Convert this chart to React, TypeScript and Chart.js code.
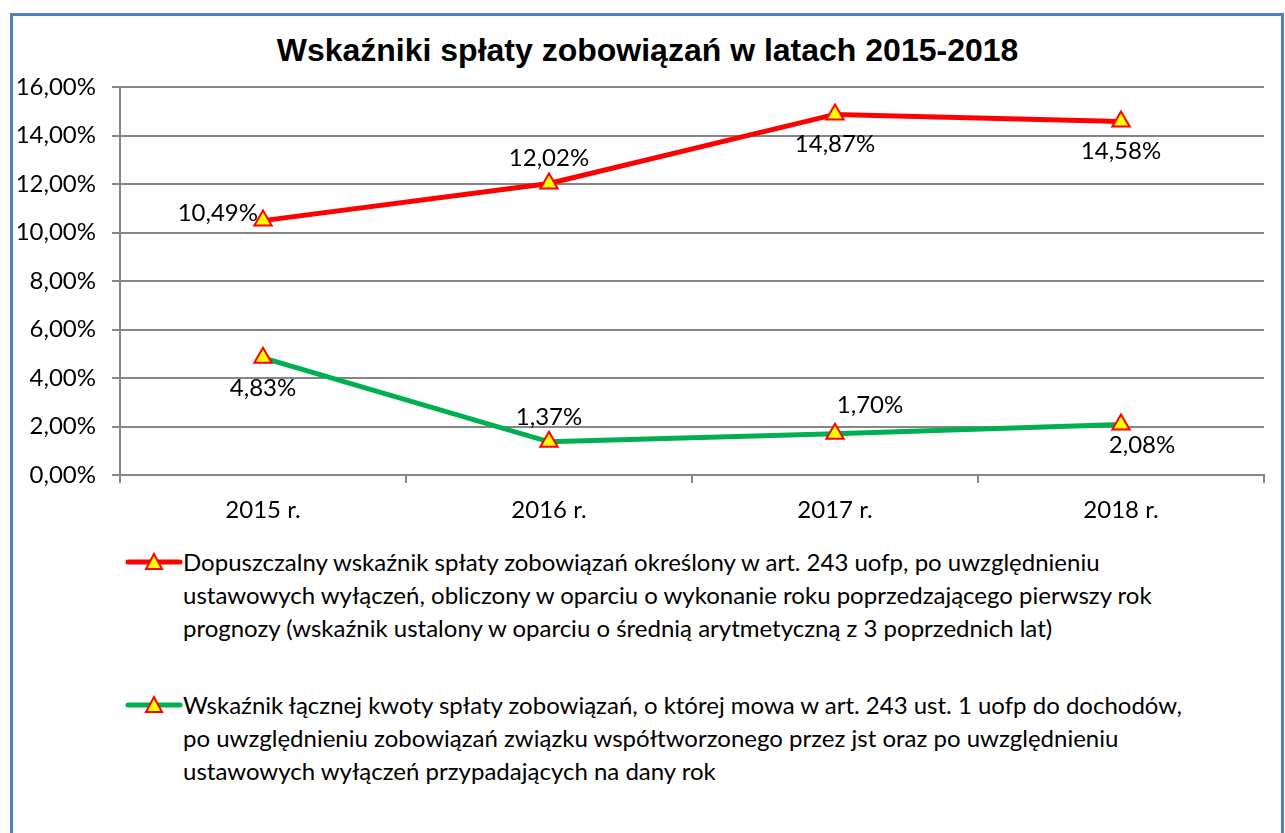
import React, { useEffect, useRef } from "react";
import { Chart, registerables } from "chart.js";

Chart.register(...registerables);

const TITLE = "Wskaźniki spłaty zobowiązań w latach 2015-2018";
const CATEGORIES = ["2015 r.", "2016 r.", "2017 r.", "2018 r."];
const ALLOWED_RATIO = [10.49, 12.02, 14.87, 14.58];
const ACTUAL_RATIO = [4.83, 1.37, 1.7, 2.08];
const Y_MIN = 0;
const Y_MAX = 16;
const Y_STEP = 2;

const LEGEND_ALLOWED = [
  "Dopuszczalny wskaźnik spłaty zobowiązań określony w art. 243 uofp, po uwzględnieniu",
  "ustawowych wyłączeń, obliczony w oparciu o wykonanie roku poprzedzającego pierwszy rok",
  "prognozy (wskaźnik ustalony w oparciu o średnią arytmetyczną z 3 poprzednich lat)",
];
const LEGEND_ACTUAL = [
  "Wskaźnik łącznej kwoty spłaty zobowiązań, o której mowa w art. 243 ust. 1 uofp do dochodów,",
  "po uwzględnieniu zobowiązań związku współtworzonego przez jst oraz po uwzględnieniu",
  "ustawowych wyłączeń przypadających na dany rok",
];

// label placement (style only)
const ALLOWED_LABEL_PLACE = ["left", "above", "below", "below"];
const ACTUAL_LABEL_PLACE = ["below", "above", "aboveRight", "belowRight"];

const RED = "#FF0000";
const GREEN = "#00B050";
const YELLOW = "#FFFF00";
const GRID = "#868686";
const BODY_FONT = "Lato, 'Noto Sans', sans-serif";
const BODY_SIZE = 24;

const fmt = (v: number) => v.toFixed(2).replace(".", ",") + "%";

const labelsPlugin = {
  id: "pointLabels",
  afterDatasetsDraw(chart: any) {
    const ctx = chart.ctx;
    ctx.save();
    ctx.font = BODY_SIZE + "px " + BODY_FONT;
    ctx.fillStyle = "#000";
    ctx.textBaseline = "middle";
    chart.data.datasets.forEach((ds: any, di: number) => {
      const meta = chart.getDatasetMeta(di);
      const places: string[] = ds.labelPlaces;
      meta.data.forEach((pt: any, i: number) => {
        const place = places[i];
        let x = pt.x;
        let y = pt.y;
        ctx.textAlign = "center";
        if (place === "left") {
          ctx.textAlign = "right";
          x -= 5;
          y -= 7;
        } else if (place === "above") {
          y -= 25;
        } else if (place === "below") {
          y += 30;
        } else if (place === "aboveRight") {
          x += 35;
          y -= 29;
        } else if (place === "belowRight") {
          x += 21;
          y += 21;
        }
        ctx.fillText(fmt(ds.data[i]), x, y);
      });
    });
    ctx.restore();
  },
};

function LegendSymbol({ color }: { color: string }) {
  return (
    <svg width={58} height={20} style={{ position: "absolute", left: 0, top: 0 }}>
      <line x1={3} y1={10} x2={55} y2={10} stroke={color} strokeWidth={5} strokeLinecap="round" />
      <polygon points="29,2 37,17 21,17" fill={YELLOW} stroke={RED} strokeWidth={2} />
    </svg>
  );
}

function LegendItem({ color, lines, top }: { color: string; lines: string[]; top: number }) {
  return (
    <div style={{ position: "absolute", left: 125, top: top }}>
      <div style={{ position: "absolute", left: 0, top: 0 }}>
        <LegendSymbol color={color} />
      </div>
      <div
        style={{
          position: "absolute",
          left: 58,
          top: -7,
          fontFamily: BODY_FONT,
          fontSize: BODY_SIZE,
          lineHeight: "33px",
          color: "#000",
          whiteSpace: "nowrap",
        }}
      >
        {lines.map((l, i) => (
          <div key={i}>{l}</div>
        ))}
      </div>
    </div>
  );
}

export default function App() {
  const canvasRef = useRef<HTMLCanvasElement | null>(null);

  useEffect(() => {
    if (!canvasRef.current) return;
    const chart = new Chart(canvasRef.current, {
      type: "line",
      data: {
        labels: CATEGORIES,
        datasets: [
          {
            label: LEGEND_ALLOWED.join(" "),
            data: ALLOWED_RATIO,
            borderColor: RED,
            borderWidth: 5,
            pointStyle: "triangle",
            pointRadius: 10,
            pointHoverRadius: 10,
            pointBackgroundColor: YELLOW,
            pointBorderColor: RED,
            pointBorderWidth: 2,
            tension: 0,
            labelPlaces: ALLOWED_LABEL_PLACE,
          } as any,
          {
            label: LEGEND_ACTUAL.join(" "),
            data: ACTUAL_RATIO,
            borderColor: GREEN,
            borderWidth: 5,
            pointStyle: "triangle",
            pointRadius: 10,
            pointHoverRadius: 10,
            pointBackgroundColor: YELLOW,
            pointBorderColor: RED,
            pointBorderWidth: 2,
            tension: 0,
            labelPlaces: ACTUAL_LABEL_PLACE,
          } as any,
        ],
      },
      options: {
        animation: false,
        responsive: false,
        maintainAspectRatio: false,
        layout: { padding: { top: 87, right: 21, left: 0, bottom: 0 } },
        plugins: {
          legend: { display: false },
          title: { display: false },
          tooltip: { enabled: false },
        },
        scales: {
          x: {
            offset: true,
            afterFit: (scale: any) => {
              scale.height = 60;
            },
            grid: {
              offset: true,
              drawOnChartArea: false,
              drawTicks: true,
              tickLength: 8,
              color: GRID,
              lineWidth: 2,
            },
            border: { display: true, color: GRID, width: 2 },
            ticks: {
              color: "#000",
              font: { family: BODY_FONT, size: BODY_SIZE },
              padding: 13,
              maxRotation: 0,
            },
          },
          y: {
            min: Y_MIN,
            max: Y_MAX,
            afterFit: (scale: any) => {
              scale.width = 120;
            },
            grid: {
              color: GRID,
              lineWidth: 2,
              tickLength: 8,
              drawTicks: true,
            },
            border: { display: true, color: GRID, width: 2 },
            ticks: {
              stepSize: Y_STEP,
              color: "#000",
              font: { family: BODY_FONT, size: BODY_SIZE },
              padding: 16,
              callback: (v: any) => fmt(Number(v)),
            },
          },
        },
      },
      plugins: [labelsPlugin],
    });
    return () => chart.destroy();
  }, []);

  return (
    <div
      style={{
        position: "fixed",
        left: 0,
        top: 0,
        width: 1285,
        height: 833,
        overflow: "hidden",
        background: "#fff",
      }}
    >
      <div
        style={{
          position: "absolute",
          left: 10,
          top: 13,
          width: 1268,
          height: 900,
          border: "3px solid #4F81BD",
          boxSizing: "content-box",
        }}
      />
      <div
        style={{
          position: "absolute",
          left: 0,
          top: 31,
          width: 1295,
          textAlign: "center",
          fontFamily: "'Liberation Sans', Arial, sans-serif",
          fontWeight: "bold",
          fontSize: 32,
          lineHeight: "38px",
          color: "#000",
        }}
      >
        {TITLE}
      </div>
      <canvas
        ref={canvasRef}
        width={1285}
        height={535}
        style={{ position: "absolute", left: 0, top: 0, width: 1285, height: 535 }}
      />
      <LegendItem color={RED} lines={LEGEND_ALLOWED} top={552} />
      <LegendItem color={GREEN} lines={LEGEND_ACTUAL} top={695} />
    </div>
  );
}
